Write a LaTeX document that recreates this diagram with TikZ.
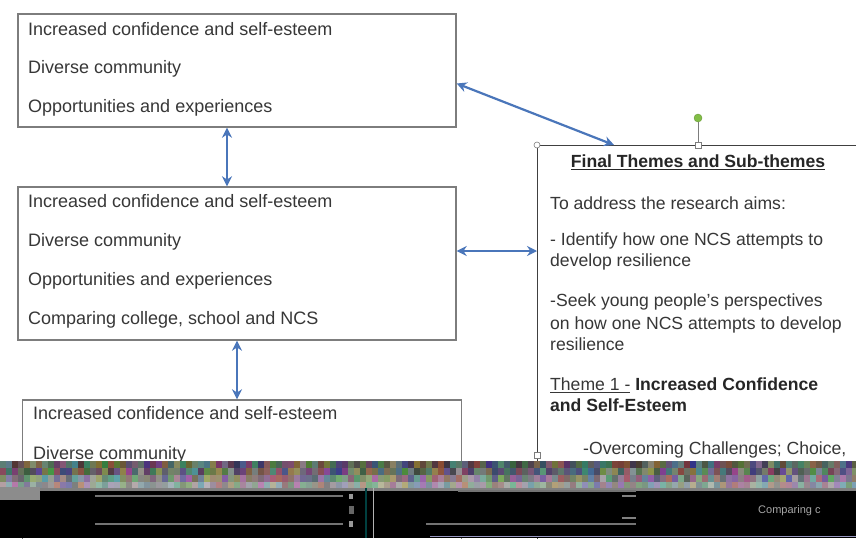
\documentclass[tikz,border=0pt]{standalone}
\usepackage{fontspec}
\setmainfont{Liberation Sans}
\usetikzlibrary{arrows.meta,calc}
\definecolor{arrowblue}{RGB}{74,118,186}
\definecolor{boxgray}{RGB}{125,125,125}
\definecolor{txt}{RGB}{55,55,55}
\definecolor{handlegreen}{RGB}{130,190,70}
\tikzset{
  leftbox/.style={draw=boxgray, line width=1.4pt, rectangle, inner sep=0pt},
  ltxt/.style={anchor=west, inner sep=0pt, font=\fontsize{18}{21}\selectfont, text=txt, text height=12.5pt, text depth=3.5pt},
  rtxt/.style={anchor=west, inner sep=0pt, font=\fontsize{17.6}{21}\selectfont, text=txt, text height=12.5pt, text depth=3.5pt},
  link/.style={draw=arrowblue, line width=2.2pt, {Stealth[length=10pt,width=10pt]}-{Stealth[length=10pt,width=10pt]}},
  handle/.style={draw=boxgray, fill=white, line width=0.6pt, inner sep=0pt},
}
\begin{document}
\begin{tikzpicture}[x=1pt,y=-1pt]
\useasboundingbox (0,0) rectangle (856,538);
\fill[white] (0,0) rectangle (856,538);

% left boxes
\node[leftbox, minimum width=438pt, minimum height=113pt] (b1) at (237,70.5) {};
\node[leftbox, minimum width=438pt, minimum height=153pt] (b2) at (237,263.5) {};
\node[leftbox, minimum width=439pt, minimum height=160pt] (b3) at (242,480) {};

\node[ltxt] (t11) at (28,31) {Increased confidence and self-esteem};
\node[ltxt] (t12) at (28,69) {Diverse community};
\node[ltxt] (t13) at (28,108) {Opportunities and experiences};

\node[ltxt] (t21) at (28,203) {Increased confidence and self-esteem};
\node[ltxt] (t22) at (28,242) {Diverse community};
\node[ltxt] (t23) at (28,281) {Opportunities and experiences};
\node[ltxt] (t24) at (28,320) {Comparing college, school and NCS};

\node[ltxt] (t31) at (33,415) {Increased confidence and self-esteem};
\node[ltxt] (t32) at (33,455) {Diverse community};

% right box
\node[draw=black!75, line width=1.4pt, rectangle, inner sep=0pt, anchor=north west,
      minimum width=400pt, minimum height=420pt] (rb) at (537,145) {};
\coordinate (rot) at (698,145);
\node[circle, fill=handlegreen, draw=handlegreen!80!black, line width=0.4pt, minimum size=8pt, inner sep=0pt] (rh) at (698,118) {};
\draw[boxgray, line width=0.8pt] (rh.south) -- (rot);
\node[handle, circle, minimum size=6pt] (h1) at (rb.north west) {};
\node[handle, rectangle, minimum size=6pt] (h2) at (rot) {};
\node[handle, rectangle, minimum size=6pt] (h3) at (537,455) {};

\node[inner sep=0pt, font=\fontsize{17.6}{21}\selectfont\bfseries, text=black!85, text height=12.5pt, text depth=3.5pt] (title) at (698,163) {\underline{Final Themes and Sub-themes}};
\node[rtxt] (r1) at (550,205) {To address the research aims:};
\node[rtxt] (r2) at (550,241) {- Identify how one NCS attempts to};
\node[rtxt] (r3) at (550,262) {develop resilience};
\node[rtxt] (r4) at (550,302) {-Seek young people's perspectives};
\node[rtxt] (r5) at (550,325) {on how one NCS attempts to develop};
\node[rtxt] (r6) at (550,346) {resilience};
\node[rtxt] (r7) at (550,386) {\underline{Theme 1 -} \textcolor{black!85}{\bfseries Increased Confidence}};
\node[rtxt] (r8) at (550,407) {\textcolor{black!85}{\bfseries and Self-Esteem}};
\node[rtxt] (r9) at (583,450) {-Overcoming Challenges; Choice,};

% connectors
\coordinate (rbtop) at (614,145);
\coordinate (rbleft) at (537,251);
\draw[link] ([yshift=-13pt]b1.east) -- (rbtop);
\draw[link] ([xshift=-10pt]b1.south) -- ([xshift=-10pt]b2.north);
\draw[link] ([yshift=12.5pt]b2.east) -- (rbleft);
\draw[link] (b2.south) -- ([xshift=-5pt]b3.north);

% glitch band at the bottom
\pgfmathsetseed{7}
\foreach \yy/\lo/\hi in {461/50/140,468/60/150,475/90/170,482/120/185}{
  \foreach \xx in {0,6,...,852}{
    \pgfmathrandominteger{\rr}{\lo}{\hi}
    \pgfmathrandominteger{\gg}{\lo}{\hi}
    \pgfmathrandominteger{\bb}{\lo}{\hi}
    \definecolor{nc}{RGB}{\rr,\gg,\bb}
    \fill[nc] (\xx,\yy) rectangle ++(6.5,7.5);
  }
}
\fill[black!50] (0,488) rectangle (856,492);
\fill[black] (0,491) rectangle (856,538);
\fill[black!45] (0,487) rectangle (40,500);
\draw[black!55, line width=1.8pt] (95,496) -- (343,496);
\draw[black!55, line width=1.8pt] (95,524) -- (343,524);
\fill[black!60] (349,506) rectangle (354,514);
\fill[black!40] (349,494) rectangle (353,499);
\fill[black!40] (349,521) rectangle (353,527);
\draw[teal!50!black, line width=1.2pt] (366,488) -- (366,538);
\draw[black!30, line width=0.8pt] (373,488) -- (373,538);
\draw[black!55, line width=1.8pt] (458,491) -- (636,491);
\draw[black!55, line width=1.8pt] (426,524) -- (636,524);
\draw[black!50, line width=1.2pt] (622,496) -- (636,496);
\draw[black!50, line width=1.2pt] (622,518) -- (636,518);
\draw[black!60!blue!40, line width=1pt] (430,536) -- (856,536);
\node[anchor=west, inner sep=0pt, text=black!35, font=\fontsize{11}{13}\selectfont] (gl) at (758,511) {Comparing c};
\end{tikzpicture}
\end{document}
